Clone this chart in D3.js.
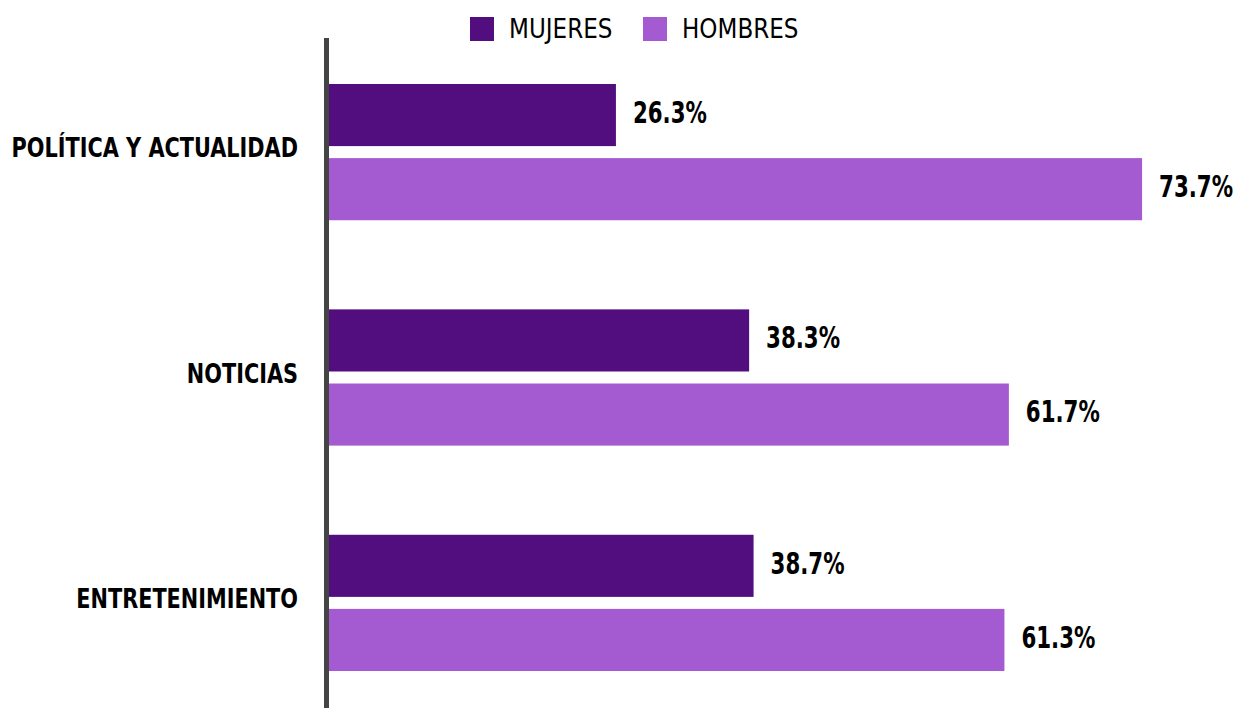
<!DOCTYPE html>
<html><head><meta charset="utf-8">
<script src="https://cdn.jsdelivr.net/npm/d3@7"></script>
<style>
html,body{margin:0;padding:0;background:#fff;}
svg{display:block;}
text{font-family:"Liberation Sans Narrow","DejaVu Sans Condensed","Roboto",sans-serif;}
</style></head>
<body>
<svg id="chart" width="1237" height="708"></svg>
<script>
const categories = ["POLÍTICA Y ACTUALIDAD", "NOTICIAS", "ENTRETENIMIENTO"];
const seriesNames = ["MUJERES", "HOMBRES"];
const mujeres = [26.3, 38.3, 38.7];
const hombres = [73.7, 61.7, 61.3];
const colors = ["#520d7e", "#a45ad0"];

const svg = d3.select("#chart");
const x = d3.scaleLinear().domain([0, 100]).range([324, 1434]);
const y = d3.scaleBand().domain(categories).range([84, 671]).paddingInner(0.3956).paddingOuter(0);
const ys = d3.scaleBand().domain(seriesNames).range([0, y.bandwidth()]).paddingInner(0.162);
const color = d3.scaleOrdinal().domain(seriesNames).range(colors);

// horizontally condense text around its anchor x (no condensed font installed)
function condense(sel, k) {
  sel.each(function() {
    const ax = +this.getAttribute("x") || 0;
    d3.select(this).attr("transform", `translate(${ax},0) scale(${k},1) translate(${-ax},0)`);
  });
}

const rows = categories.map((c, i) => ({cat: c, vals: [
  {s: "MUJERES", v: mujeres[i]}, {s: "HOMBRES", v: hombres[i]}]}));

const g = svg.selectAll("g.grp").data(rows).join("g")
  .attr("transform", d => `translate(0,${y(d.cat)})`);

g.selectAll("rect").data(d => d.vals).join("rect")
  .attr("x", x(0))
  .attr("y", d => ys(d.s))
  .attr("width", d => x(d.v) - x(0))
  .attr("height", ys.bandwidth())
  .attr("fill", d => color(d.s));

g.selectAll("text.val").data(d => d.vals).join("text")
  .attr("class", "val")
  .attr("x", d => x(d.v) + 17)
  .attr("y", d => ys(d.s) + ys.bandwidth() / 2 - 3)
  .attr("dy", "0.36em")
  .attr("font-size", 30)
  .attr("font-weight", "bold")
  .attr("fill", "#000")
  .text(d => d.v.toFixed(1) + "%")
  .call(condense, 0.79);

// category axis
const yAxis = d3.axisLeft(y).tickSize(0).tickPadding(26);
const axG = svg.append("g").attr("transform", `translate(324,-4)`).call(yAxis);
axG.select(".domain").remove();
axG.selectAll("text").attr("font-size", 26).attr("font-weight", "bold").attr("fill", "#000")
  .attr("font-family", null).attr("dy", "0.36em")
  .call(condense, 0.89);
svg.append("line").attr("x1", 326.5).attr("x2", 326.5).attr("y1", 38).attr("y2", 708)
  .attr("stroke", "#444").attr("stroke-width", 5);

// legend
const legX = [470, 643];
const leg = svg.selectAll("g.leg").data(seriesNames).join("g")
  .attr("transform", (d, i) => `translate(${legX[i]},17)`);
leg.append("rect").attr("width", 24).attr("height", 24).attr("fill", d => color(d));
leg.append("text").attr("x", 39).attr("y", 11).attr("dy", "0.36em")
  .attr("font-size", 27).attr("fill", "#000").text(d => d)
  .call(condense, 0.95);
</script>
</body></html>
